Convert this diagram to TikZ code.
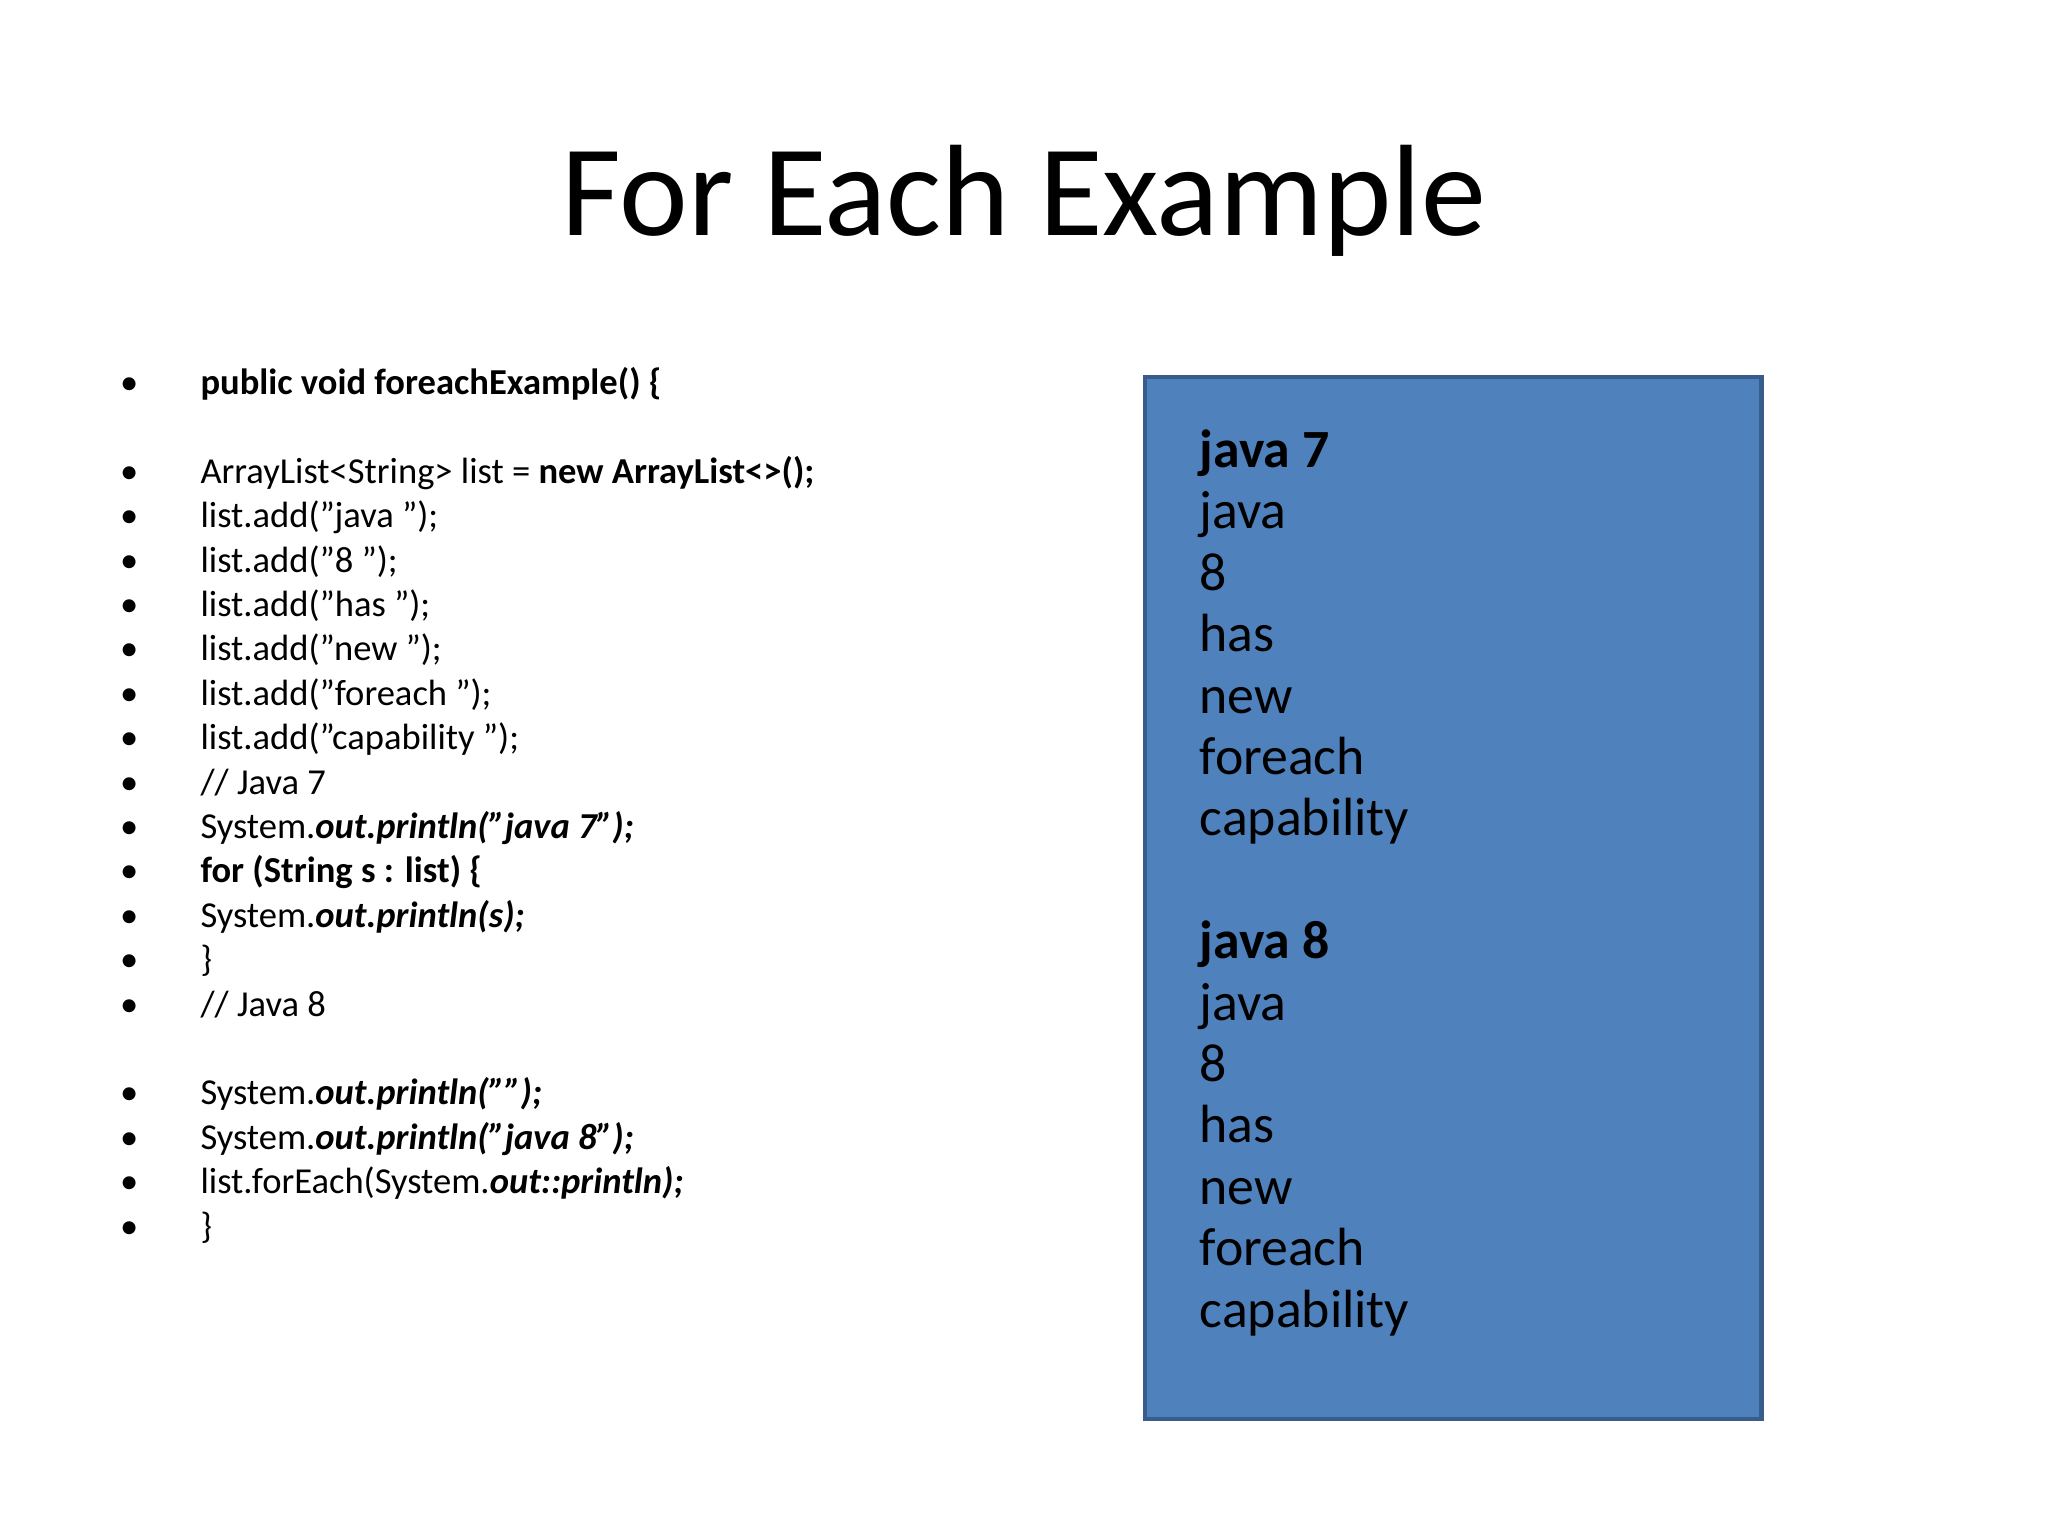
\documentclass[tikz,border=0pt]{standalone}
\usepackage{fontspec}
\setmainfont{Carlito}
\definecolor{boxfill}{HTML}{4F81BD}
\definecolor{boxline}{HTML}{385D8A}
\begin{document}
\begin{tikzpicture}[x=0.01306cm,y=-0.01306cm,
  code/.style={anchor=base west,inner sep=0,font=\fontsize{10.4}{12}\selectfont},
  bul/.style={anchor=base,inner sep=0,font=\fontsize{10.4}{12}\selectfont},
  outtext/.style={anchor=base west,inner sep=0,font=\fontsize{15.3}{18}\selectfont}]
\useasboundingbox (0,0) rectangle (1568,1176);
\node[anchor=base,inner sep=0,font=\fontsize{37}{44}\selectfont] (title) at (784,180) {For Each Example};
\foreach \y/\t [count=\i] in {
 302/{\textbf{public void foreachExample() \{}},
 370/{ArrayList<String> list = \textbf{new ArrayList<>();}},
 404/{list.add("java ");},
 438/{list.add("8 ");},
 472/{list.add("has ");},
 506/{list.add("new ");},
 540/{list.add("foreach ");},
 574/{list.add("capability ");},
 608/{// Java 7},
 642/{System.\textbf{\textit{out.println("java 7");}}},
 676/{\textbf{for (String s : list) \{}},
 710/{System.\textbf{\textit{out.println(s);}}},
 744/{\}},
 778/{// Java 8},
 846/{System.\textbf{\textit{out.println("");}}},
 880/{System.\textbf{\textit{out.println("java 8");}}},
 914/{list.forEach(System.\textbf{\textit{out::println);}}},
 948/{\}}}{
  \node[bul] (b\i) at (99,\y) {•};
  \node[code] (c\i) at (153,\y) {\t};
}
\node[draw=boxline,line width=1.2pt,fill=boxfill,minimum width=472*0.01306cm,minimum height=798*0.01306cm,anchor=north west,inner sep=0] (box) at (875,287) {};
\foreach \y/\t [count=\i] in {
 358/{\textbf{java 7}}, 405/java, 452/8, 499/has, 546/new, 593/foreach, 640/capability,
 734/{\textbf{java 8}}, 781/java, 828/8, 875/has, 922/new, 969/foreach, 1016/capability}{
  \node[outtext] (o\i) at (918,\y) {\t};
}
\end{tikzpicture}
\end{document}
